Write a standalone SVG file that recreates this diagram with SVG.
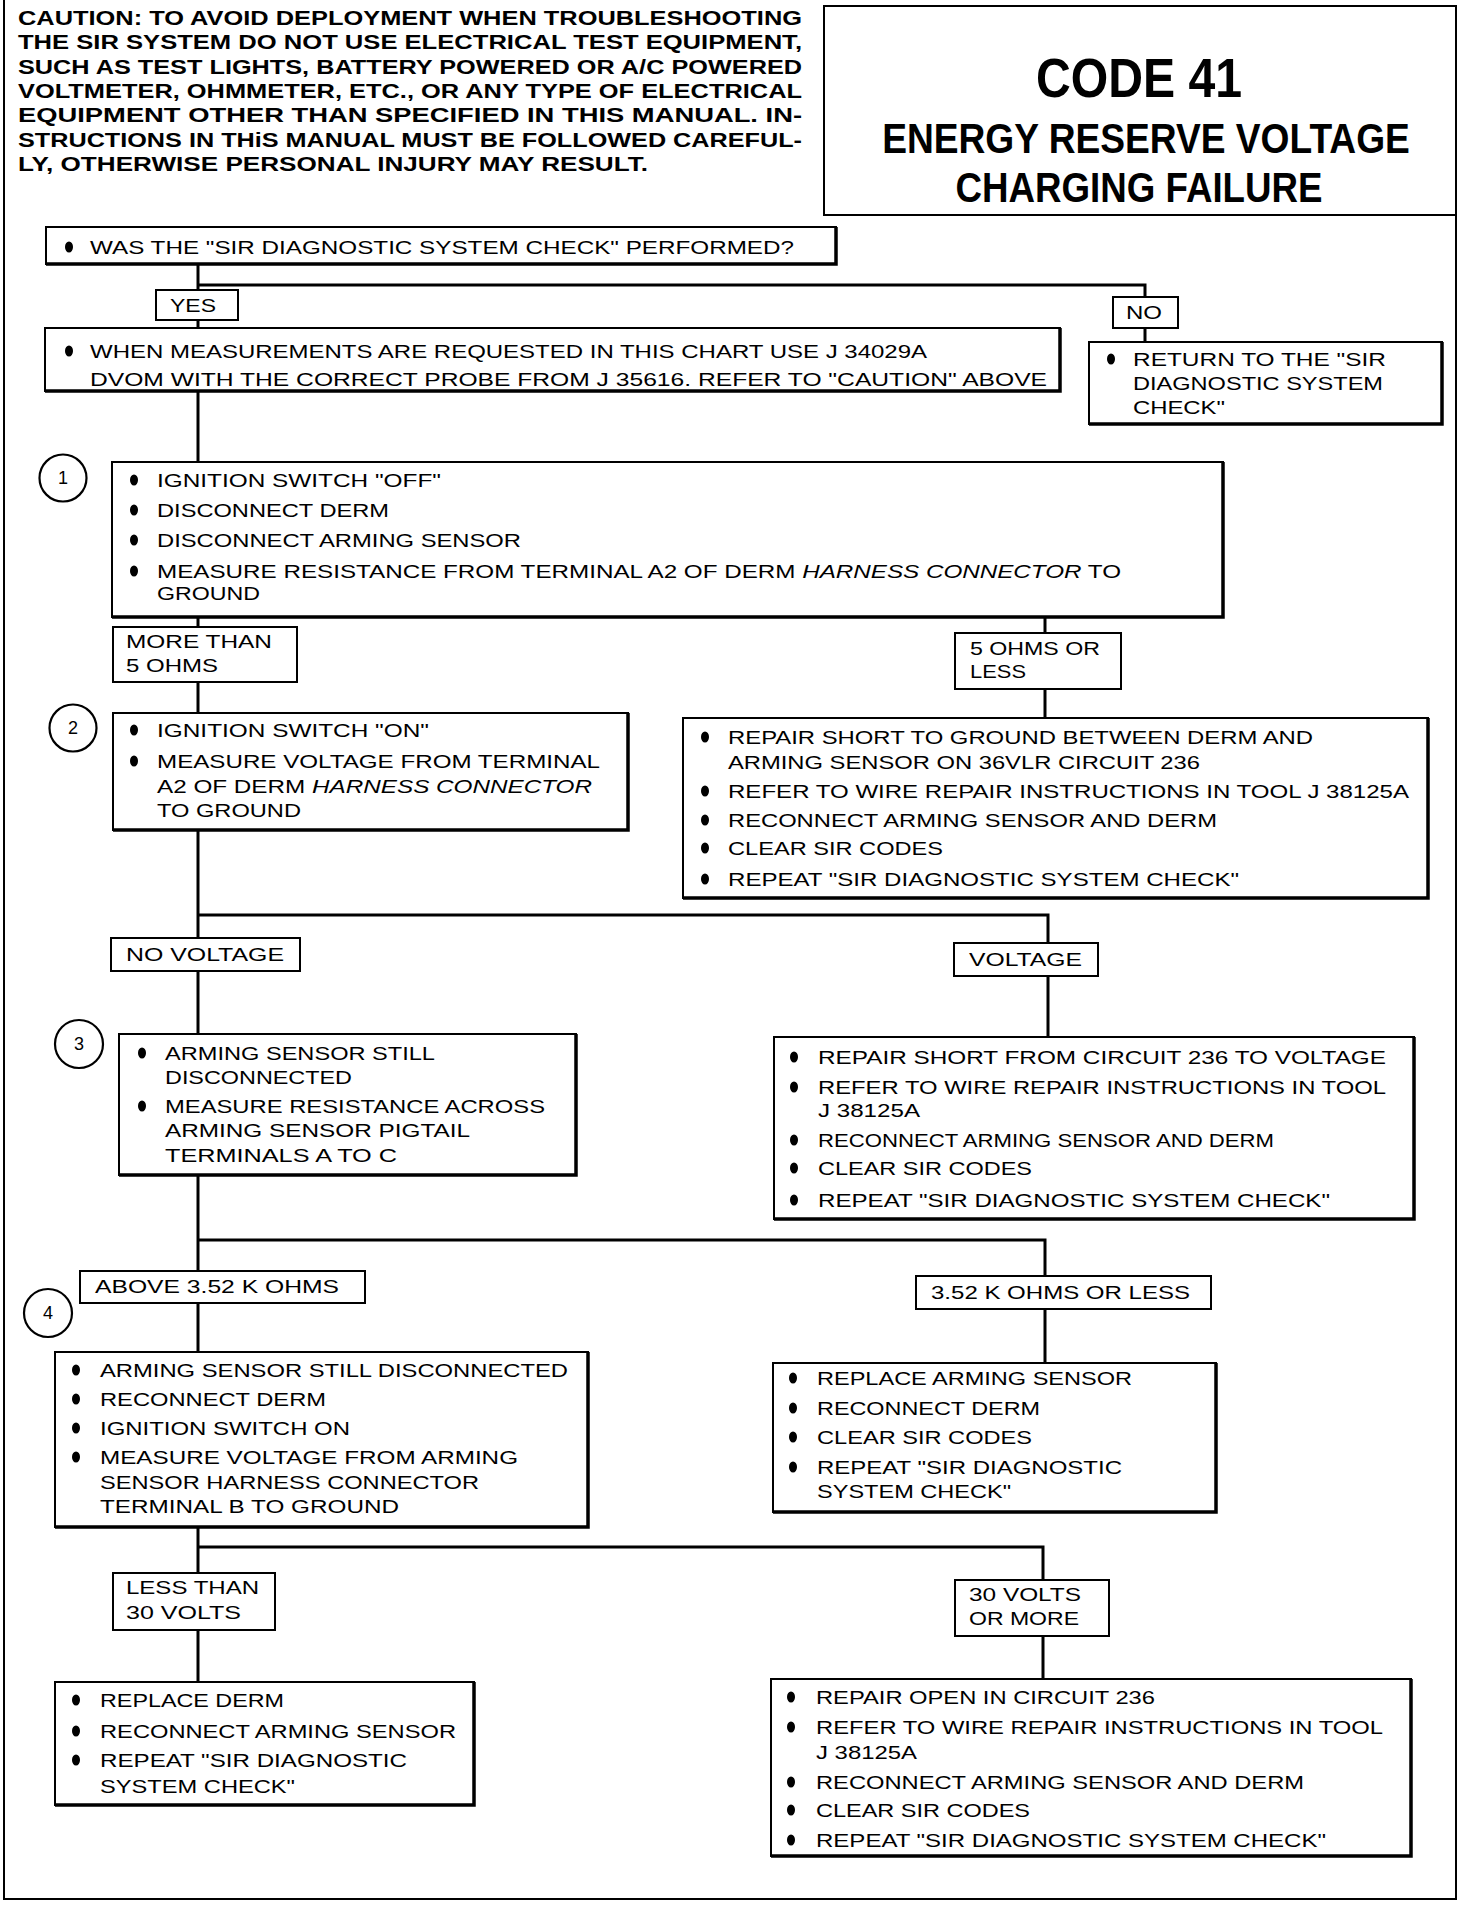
<svg xmlns="http://www.w3.org/2000/svg" width="1472" height="1906" viewBox="0 0 1472 1906">
<style>
.t{font-family:"Liberation Sans",Arial,sans-serif;font-size:19px;fill:#000}
.c{font-family:"Liberation Sans",Arial,sans-serif;font-size:21px;font-weight:bold;fill:#000}
.h{font-family:"Liberation Sans",Arial,sans-serif;font-weight:bold;fill:#000;text-anchor:middle}
.n{font-family:"Liberation Sans",Arial,sans-serif;font-size:18px;fill:#000;text-anchor:middle}
.box{fill:#fff;stroke:#000;stroke-width:2}
.sh{fill:none;stroke:#000;stroke-width:3.5}
.ln{fill:none;stroke:#000;stroke-width:3}
.fr{fill:none;stroke:#000;stroke-width:2}
.num{fill:#fff;stroke:#000;stroke-width:2.2}
</style>
<defs>
<ellipse id="b" cx="0" cy="0" rx="4" ry="5.5" fill="#000"/>
</defs>
<rect width="1472" height="1906" fill="#fff"/>

<g id="frame">
<path class="fr" d="M4 0 V1899 H1456 V215"/>
</g>

<g id="caution">
<text class="c" x="18" y="25" textLength="784" lengthAdjust="spacingAndGlyphs">CAUTION: TO AVOID DEPLOYMENT WHEN TROUBLESHOOTING</text>
<text class="c" x="18" y="49" textLength="784" lengthAdjust="spacingAndGlyphs">THE SIR SYSTEM DO NOT USE ELECTRICAL TEST EQUIPMENT,</text>
<text class="c" x="18" y="74" textLength="784" lengthAdjust="spacingAndGlyphs">SUCH AS TEST LIGHTS,  BATTERY POWERED OR A/C POWERED</text>
<text class="c" x="18" y="98" textLength="784" lengthAdjust="spacingAndGlyphs">VOLTMETER, OHMMETER, ETC., OR ANY TYPE OF ELECTRICAL</text>
<text class="c" x="18" y="122" textLength="784" lengthAdjust="spacingAndGlyphs">EQUIPMENT OTHER THAN SPECIFIED IN THIS MANUAL. IN-</text>
<text class="c" x="18" y="147" textLength="784" lengthAdjust="spacingAndGlyphs">STRUCTIONS IN THiS MANUAL MUST BE FOLLOWED CAREFUL-</text>
<text class="c" x="18" y="171" textLength="630" lengthAdjust="spacingAndGlyphs">LY, OTHERWISE PERSONAL INJURY MAY RESULT.</text>
</g>

<g id="title">
<rect class="box" x="824" y="6" width="632" height="209"/>
<text class="h" font-size="55" transform="translate(1139 97) scale(0.876 1)">CODE 41</text>
<text class="h" font-size="43" transform="translate(1146 153) scale(0.864 1)">ENERGY RESERVE VOLTAGE</text>
<text class="h" font-size="43" transform="translate(1139 202) scale(0.854 1)">CHARGING FAILURE</text>
</g>

<g id="connectors">
<path class="ln" d="M198 264 V328"/>
<path class="ln" d="M198 285 H1145 V342"/>
<path class="ln" d="M198 391 V462"/>
<path class="ln" d="M198 617 V713"/>
<path class="ln" d="M1045 617 V718"/>
<path class="ln" d="M198 830 V1034"/>
<path class="ln" d="M198 915 H1048 V1037"/>
<path class="ln" d="M198 1175 V1352"/>
<path class="ln" d="M198 1240 H1045 V1363"/>
<path class="ln" d="M198 1527 V1682"/>
<path class="ln" d="M198 1547 H1043 V1679"/>
</g>

<g id="q0">
<rect class="box" x="46" y="227" width="790" height="37"/>
<path class="sh" d="M836 227 V264 H46"/>
<use href="#b" x="69" y="247"/>
<text class="t" x="90" y="254" textLength="704" lengthAdjust="spacingAndGlyphs">WAS THE "SIR DIAGNOSTIC SYSTEM CHECK" PERFORMED?</text>
</g>

<g id="lbl-yes">
<rect class="box" x="156" y="290" width="82" height="30"/>
<text class="t" x="170" y="312" textLength="46" lengthAdjust="spacingAndGlyphs">YES</text>
</g>
<g id="lbl-no">
<rect class="box" x="1113" y="297" width="65" height="31"/>
<text class="t" x="1126" y="319" textLength="36" lengthAdjust="spacingAndGlyphs">NO</text>
</g>

<g id="when">
<rect class="box" x="45" y="328" width="1015" height="63"/>
<path class="sh" d="M1060 328 V391 H45"/>
<use href="#b" x="69" y="351"/>
<text class="t" x="90" y="358" textLength="837" lengthAdjust="spacingAndGlyphs">WHEN MEASUREMENTS ARE REQUESTED IN THIS CHART USE J 34029A</text>
<text class="t" x="90" y="386" textLength="957" lengthAdjust="spacingAndGlyphs">DVOM WITH THE CORRECT PROBE FROM J 35616. REFER TO "CAUTION" ABOVE</text>
</g>

<g id="return">
<rect class="box" x="1089" y="342" width="353" height="82"/>
<path class="sh" d="M1442 342 V424 H1089"/>
<use href="#b" x="1111" y="359"/>
<text class="t" x="1133" y="366" textLength="253" lengthAdjust="spacingAndGlyphs">RETURN TO THE "SIR</text>
<text class="t" x="1133" y="390" textLength="250" lengthAdjust="spacingAndGlyphs">DIAGNOSTIC SYSTEM</text>
<text class="t" x="1133" y="414" textLength="92" lengthAdjust="spacingAndGlyphs">CHECK"</text>
</g>

<g id="step1">
<circle class="num" cx="63" cy="478" r="23.5"/>
<text class="n" x="63" y="484">1</text>
<rect class="box" x="112" y="462" width="1111" height="155"/>
<path class="sh" d="M1223 462 V617 H112"/>
<use href="#b" x="134" y="480"/>
<text class="t" x="157" y="487" textLength="284" lengthAdjust="spacingAndGlyphs">IGNITION SWITCH "OFF"</text>
<use href="#b" x="134" y="510"/>
<text class="t" x="157" y="517" textLength="232" lengthAdjust="spacingAndGlyphs">DISCONNECT DERM</text>
<use href="#b" x="134" y="540"/>
<text class="t" x="157" y="547" textLength="364" lengthAdjust="spacingAndGlyphs">DISCONNECT ARMING SENSOR</text>
<use href="#b" x="134" y="571"/>
<text class="t" x="157" y="578" textLength="964" lengthAdjust="spacingAndGlyphs">MEASURE RESISTANCE FROM TERMINAL A2 OF DERM <tspan font-style="italic">HARNESS CONNECTOR</tspan> TO</text>
<text class="t" x="157" y="600" textLength="103" lengthAdjust="spacingAndGlyphs">GROUND</text>
</g>

<g id="lbl-more5">
<rect class="box" x="113" y="627" width="184" height="55"/>
<text class="t" x="126" y="648" textLength="146" lengthAdjust="spacingAndGlyphs">MORE THAN</text>
<text class="t" x="126" y="672" textLength="92" lengthAdjust="spacingAndGlyphs">5 OHMS</text>
</g>
<g id="lbl-less5">
<rect class="box" x="955" y="633" width="166" height="56"/>
<text class="t" x="970" y="655" textLength="130" lengthAdjust="spacingAndGlyphs">5 OHMS OR</text>
<text class="t" x="970" y="678" textLength="56" lengthAdjust="spacingAndGlyphs">LESS</text>
</g>

<g id="step2">
<circle class="num" cx="73" cy="728" r="23.5"/>
<text class="n" x="73" y="734">2</text>
<rect class="box" x="113" y="713" width="515" height="117"/>
<path class="sh" d="M628 713 V830 H113"/>
<use href="#b" x="134" y="730"/>
<text class="t" x="157" y="737" textLength="272" lengthAdjust="spacingAndGlyphs">IGNITION SWITCH "ON"</text>
<use href="#b" x="134" y="761"/>
<text class="t" x="157" y="768" textLength="443" lengthAdjust="spacingAndGlyphs">MEASURE VOLTAGE FROM TERMINAL</text>
<text class="t" x="157" y="793" textLength="435" lengthAdjust="spacingAndGlyphs">A2 OF DERM <tspan font-style="italic">HARNESS CONNECTOR</tspan></text>
<text class="t" x="157" y="817" textLength="144" lengthAdjust="spacingAndGlyphs">TO GROUND</text>
</g>

<g id="fix-short-ground">
<rect class="box" x="683" y="718" width="745" height="180"/>
<path class="sh" d="M1428 718 V898 H683"/>
<use href="#b" x="705" y="737"/>
<text class="t" x="728" y="744" textLength="585" lengthAdjust="spacingAndGlyphs">REPAIR SHORT TO GROUND BETWEEN DERM AND</text>
<text class="t" x="728" y="769" textLength="472" lengthAdjust="spacingAndGlyphs">ARMING SENSOR ON 36VLR CIRCUIT 236</text>
<use href="#b" x="705" y="791"/>
<text class="t" x="728" y="798" textLength="681" lengthAdjust="spacingAndGlyphs">REFER TO WIRE REPAIR INSTRUCTIONS IN TOOL J 38125A</text>
<use href="#b" x="705" y="820"/>
<text class="t" x="728" y="827" textLength="489" lengthAdjust="spacingAndGlyphs">RECONNECT ARMING SENSOR AND DERM</text>
<use href="#b" x="705" y="848"/>
<text class="t" x="728" y="855" textLength="215" lengthAdjust="spacingAndGlyphs">CLEAR SIR CODES</text>
<use href="#b" x="705" y="879"/>
<text class="t" x="728" y="886" textLength="511" lengthAdjust="spacingAndGlyphs">REPEAT "SIR DIAGNOSTIC SYSTEM CHECK"</text>
</g>

<g id="lbl-novolt">
<rect class="box" x="111" y="938" width="189" height="33"/>
<text class="t" x="126" y="961" textLength="158" lengthAdjust="spacingAndGlyphs">NO VOLTAGE</text>
</g>
<g id="lbl-volt">
<rect class="box" x="954" y="943" width="144" height="33"/>
<text class="t" x="969" y="966" textLength="113" lengthAdjust="spacingAndGlyphs">VOLTAGE</text>
</g>

<g id="step3">
<circle class="num" cx="79" cy="1044" r="24"/>
<text class="n" x="79" y="1050">3</text>
<rect class="box" x="119" y="1034" width="457" height="141"/>
<path class="sh" d="M576 1034 V1175 H119"/>
<use href="#b" x="142" y="1053"/>
<text class="t" x="165" y="1060" textLength="270" lengthAdjust="spacingAndGlyphs">ARMING SENSOR STILL</text>
<text class="t" x="165" y="1084" textLength="187" lengthAdjust="spacingAndGlyphs">DISCONNECTED</text>
<use href="#b" x="142" y="1106"/>
<text class="t" x="165" y="1113" textLength="380" lengthAdjust="spacingAndGlyphs">MEASURE RESISTANCE ACROSS</text>
<text class="t" x="165" y="1137" textLength="305" lengthAdjust="spacingAndGlyphs">ARMING SENSOR  PIGTAIL</text>
<text class="t" x="165" y="1162" textLength="232" lengthAdjust="spacingAndGlyphs">TERMINALS A TO C</text>
</g>

<g id="fix-short-voltage">
<rect class="box" x="774" y="1037" width="640" height="182"/>
<path class="sh" d="M1414 1037 V1219 H774"/>
<use href="#b" x="794" y="1057"/>
<text class="t" x="818" y="1064" textLength="568" lengthAdjust="spacingAndGlyphs">REPAIR SHORT FROM CIRCUIT 236 TO VOLTAGE</text>
<use href="#b" x="794" y="1087"/>
<text class="t" x="818" y="1094" textLength="568" lengthAdjust="spacingAndGlyphs">REFER TO WIRE REPAIR INSTRUCTIONS IN TOOL</text>
<text class="t" x="818" y="1117" textLength="102" lengthAdjust="spacingAndGlyphs">J 38125A</text>
<use href="#b" x="794" y="1140"/>
<text class="t" x="818" y="1147" textLength="456" lengthAdjust="spacingAndGlyphs">RECONNECT ARMING SENSOR AND DERM</text>
<use href="#b" x="794" y="1168"/>
<text class="t" x="818" y="1175" textLength="214" lengthAdjust="spacingAndGlyphs">CLEAR SIR CODES</text>
<use href="#b" x="794" y="1200"/>
<text class="t" x="818" y="1207" textLength="512" lengthAdjust="spacingAndGlyphs">REPEAT "SIR DIAGNOSTIC SYSTEM CHECK"</text>
</g>

<g id="lbl-above">
<rect class="box" x="80" y="1271" width="285" height="32"/>
<text class="t" x="95" y="1293" textLength="244" lengthAdjust="spacingAndGlyphs">ABOVE 3.52 K OHMS</text>
</g>
<g id="lbl-below">
<rect class="box" x="916" y="1276" width="295" height="33"/>
<text class="t" x="931" y="1299" textLength="259" lengthAdjust="spacingAndGlyphs">3.52 K OHMS OR LESS</text>
</g>

<g id="step4">
<circle class="num" cx="48" cy="1313" r="24"/>
<text class="n" x="48" y="1319">4</text>
<rect class="box" x="55" y="1352" width="533" height="175"/>
<path class="sh" d="M588 1352 V1527 H55"/>
<use href="#b" x="76" y="1370"/>
<text class="t" x="100" y="1377" textLength="468" lengthAdjust="spacingAndGlyphs">ARMING SENSOR STILL DISCONNECTED</text>
<use href="#b" x="76" y="1399"/>
<text class="t" x="100" y="1406" textLength="226" lengthAdjust="spacingAndGlyphs">RECONNECT DERM</text>
<use href="#b" x="76" y="1428"/>
<text class="t" x="100" y="1435" textLength="250" lengthAdjust="spacingAndGlyphs">IGNITION SWITCH ON</text>
<use href="#b" x="76" y="1457"/>
<text class="t" x="100" y="1464" textLength="418" lengthAdjust="spacingAndGlyphs">MEASURE VOLTAGE FROM ARMING</text>
<text class="t" x="100" y="1489" textLength="379" lengthAdjust="spacingAndGlyphs">SENSOR HARNESS CONNECTOR</text>
<text class="t" x="100" y="1513" textLength="299" lengthAdjust="spacingAndGlyphs">TERMINAL B TO GROUND</text>
</g>

<g id="fix-arming-sensor">
<rect class="box" x="773" y="1363" width="443" height="149"/>
<path class="sh" d="M1216 1363 V1512 H773"/>
<use href="#b" x="793" y="1378"/>
<text class="t" x="817" y="1385" textLength="315" lengthAdjust="spacingAndGlyphs">REPLACE ARMING SENSOR</text>
<use href="#b" x="793" y="1408"/>
<text class="t" x="817" y="1415" textLength="223" lengthAdjust="spacingAndGlyphs">RECONNECT DERM</text>
<use href="#b" x="793" y="1437"/>
<text class="t" x="817" y="1444" textLength="215" lengthAdjust="spacingAndGlyphs">CLEAR SIR CODES</text>
<use href="#b" x="793" y="1467"/>
<text class="t" x="817" y="1474" textLength="305" lengthAdjust="spacingAndGlyphs">REPEAT "SIR DIAGNOSTIC</text>
<text class="t" x="817" y="1498" textLength="194" lengthAdjust="spacingAndGlyphs">SYSTEM CHECK"</text>
</g>

<g id="lbl-less30">
<rect class="box" x="113" y="1573" width="162" height="57"/>
<text class="t" x="126" y="1594" textLength="133" lengthAdjust="spacingAndGlyphs">LESS THAN</text>
<text class="t" x="126" y="1619" textLength="115" lengthAdjust="spacingAndGlyphs">30 VOLTS</text>
</g>
<g id="lbl-more30">
<rect class="box" x="955" y="1580" width="154" height="56"/>
<text class="t" x="969" y="1601" textLength="112" lengthAdjust="spacingAndGlyphs">30 VOLTS</text>
<text class="t" x="969" y="1625" textLength="110" lengthAdjust="spacingAndGlyphs">OR MORE</text>
</g>

<g id="fix-derm">
<rect class="box" x="55" y="1682" width="419" height="123"/>
<path class="sh" d="M474 1682 V1805 H55"/>
<use href="#b" x="76" y="1700"/>
<text class="t" x="100" y="1707" textLength="184" lengthAdjust="spacingAndGlyphs">REPLACE DERM</text>
<use href="#b" x="76" y="1731"/>
<text class="t" x="100" y="1738" textLength="356" lengthAdjust="spacingAndGlyphs">RECONNECT ARMING SENSOR</text>
<use href="#b" x="76" y="1760"/>
<text class="t" x="100" y="1767" textLength="307" lengthAdjust="spacingAndGlyphs">REPEAT "SIR DIAGNOSTIC</text>
<text class="t" x="100" y="1793" textLength="195" lengthAdjust="spacingAndGlyphs">SYSTEM CHECK"</text>
</g>

<g id="fix-open">
<rect class="box" x="771" y="1679" width="640" height="177"/>
<path class="sh" d="M1411 1679 V1856 H771"/>
<use href="#b" x="791" y="1697"/>
<text class="t" x="816" y="1704" textLength="339" lengthAdjust="spacingAndGlyphs">REPAIR OPEN IN CIRCUIT 236</text>
<use href="#b" x="791" y="1727"/>
<text class="t" x="816" y="1734" textLength="567" lengthAdjust="spacingAndGlyphs">REFER TO WIRE REPAIR INSTRUCTIONS IN TOOL</text>
<text class="t" x="816" y="1759" textLength="101" lengthAdjust="spacingAndGlyphs">J 38125A</text>
<use href="#b" x="791" y="1782"/>
<text class="t" x="816" y="1789" textLength="488" lengthAdjust="spacingAndGlyphs">RECONNECT ARMING SENSOR AND DERM</text>
<use href="#b" x="791" y="1810"/>
<text class="t" x="816" y="1817" textLength="214" lengthAdjust="spacingAndGlyphs">CLEAR SIR CODES</text>
<use href="#b" x="791" y="1840"/>
<text class="t" x="816" y="1847" textLength="510" lengthAdjust="spacingAndGlyphs">REPEAT "SIR DIAGNOSTIC SYSTEM CHECK"</text>
</g>
</svg>
